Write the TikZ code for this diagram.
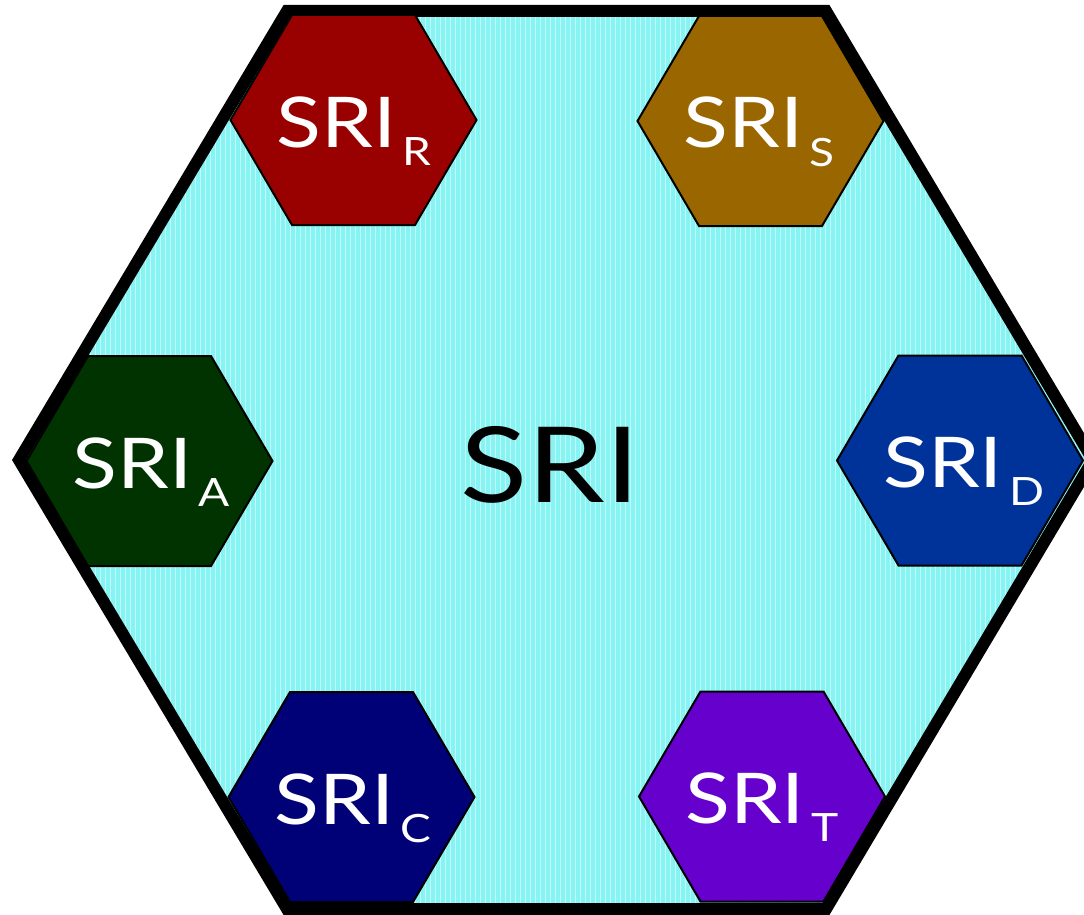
\documentclass[tikz,border=0pt]{standalone}
\usepackage{graphicx}
\usepackage{fontspec}
\setmainfont{Lato}
\definecolor{meshbg}{RGB}{135,244,244}
\definecolor{cR}{HTML}{990000}
\definecolor{cS}{HTML}{996600}
\definecolor{cA}{HTML}{003300}
\definecolor{cD}{HTML}{003399}
\definecolor{cC}{HTML}{000077}
\definecolor{cT}{HTML}{6600CC}
\newcommand{\wide}[1]{\scalebox{1.18}[1]{#1}}
\begin{document}
\begin{tikzpicture}[x=1pt,y=-1pt,
  mainlbl/.style={anchor=base west,inner sep=0pt,text=white,font=\fontsize{70}{70}\selectfont},
  sublbl/.style={anchor=base west,inner sep=0pt,text=white,font=\fontsize{39}{39}\selectfont},
  smallhex/.style={draw=black,line width=2pt,line join=miter}]
\useasboundingbox (0,0) rectangle (1084,915);
% big hexagon
\path[fill=meshbg] (287,11) -- (826,11) -- (1093,460) -- (826,909) -- (287,909) -- (19,460) -- cycle;
\begin{scope}
\clip (287,11) -- (826,11) -- (1093,460) -- (826,909) -- (287,909) -- (19,460) -- cycle;
\draw[white,line width=0.8pt,opacity=0.5,step=5] (0,0) grid (1100,920);
\end{scope}
\draw[line width=12pt,line join=miter] (287,11) -- (826,11) -- (1093,460) -- (826,909) -- (287,909) -- (19,460) -- cycle;
\node[anchor=base,inner sep=0pt,font=\fontsize{105}{105}\selectfont] (big) at (550,502) {\wide{SRI}};
% small hexagons
\foreach \nm/\cx/\cy/\col/\sub in {R/353.5/120/cR/R, S/760.5/121/cS/S, A/149.5/461/cA/A, D/960/460.5/cD/D, C/351.5/797/cC/C, T/762/796.5/cT/T}{
  \fill[\col] (\cx-61.5,\cy-105) -- (\cx+61.5,\cy-105) -- (\cx+123,\cy) -- (\cx+61.5,\cy+105) -- (\cx-61.5,\cy+105) -- (\cx-123,\cy) -- cycle;
  \draw[smallhex] (\cx-61.5,\cy-105) -- (\cx+61.5,\cy-105) -- (\cx+123,\cy) -- (\cx+61.5,\cy+105) -- (\cx-61.5,\cy+105) -- (\cx-123,\cy) -- cycle;
  \node[mainlbl] (m\nm) at (\cx-77,\cy+27) {\wide{SRI}};
  \node[sublbl] (s\nm) at (\cx+49,\cy+45) {\wide{\sub}};
}
\end{tikzpicture}
\end{document}
